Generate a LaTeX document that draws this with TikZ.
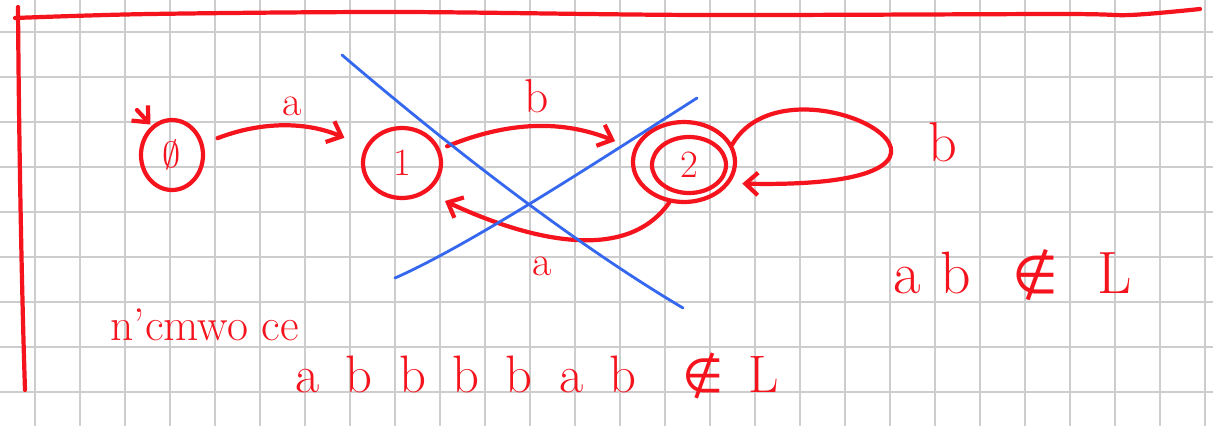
\documentclass[tikz,border=0pt]{standalone}
\usepackage{fontspec}
\usepackage{tikz}
\usetikzlibrary{positioning,shapes.geometric,arrows.meta}
\newfontfamily\symfont{DejaVu Sans}
\definecolor{inkRed}{HTML}{F5141E}
\definecolor{inkBlue}{HTML}{3568EE}
\definecolor{paperGrid}{HTML}{CDCDCD}
\newcommand{\lsp}{\hspace{15pt}}

\begin{document}
\begin{tikzpicture}[x=0.2mm, y=0.2mm,
    ink/.style={draw=inkRed, line width=2.4pt, line cap=round, line join=round},
    state/.style={ellipse, ink, inner sep=0pt, text=inkRed, font=\fontsize{22}{24}\selectfont},
    edge/.style={ink, -{Straight Barb[length=2.5mm,width=4.5mm]}},
    lbl/.style={inner sep=0pt, text=inkRed, font=\fontsize{24}{26}\selectfont},
    cross/.style={draw=inkBlue, line width=1.6pt, line cap=round},
    gridline/.style={draw=paperGrid, line width=0.9pt}]
    \useasboundingbox[fill=white] (0,0) rectangle (1213,-426);
    % squared paper
    \foreach \x in {35,80,...,1205} {
        \draw[gridline] (\x,0) -- (\x,-426);
    }
    \foreach \y in {77,122,...,392} {
        \draw[gridline] (0,-\y) -- (1213,-\y);
    }
    \draw[gridline, line width=1.6pt] (0,-32) -- (1213,-32);
    % frame
    \draw[ink] plot[smooth] coordinates {(15,-18) (150,-14) (400,-12) (700,-15) (1060,-14) (1130,-15) (1200,-9)};
    \draw[ink] (18,-7) .. controls (19,-150) and (22,-300) .. (25,-390);

    % states
    \node[state, minimum width=12.4mm, minimum height=14mm] (s0) at (172,-155) {$\emptyset$};
    \node[state, minimum width=15.6mm, minimum height=14mm] (s1) at (402,-163) {1};
    \node[state, minimum width=20.4mm, minimum height=16mm] (s2) at (684,-162) {};
    \node[state, minimum width=14.8mm, minimum height=11.2mm] (s2in) at (689,-165) {2};

    % transitions
    \coordinate (init) at (137,-110);
    \draw[edge, shorten >=1pt] (init) -- (s0.125);
    \draw[edge, shorten <=3mm, shorten >=4.5mm] (s0) to[bend left=22]
        node[lbl, pos=0.55, above=2mm] {a} (s1);
    \draw[edge, shorten <=1.5mm, shorten >=4mm] (s1.20) to[bend left=22]
        node[lbl, above=2.5mm, font=\fontsize{27}{29}\selectfont] {b} (s2.165);
    \draw[edge, shorten >=4mm] (s2.250) to[out=-125, in=-25, looseness=0.9]
        node[lbl, pos=0.56, below=4mm] {a} (s1.-50);
    \draw[edge, shorten >=2.5mm] (s2.20) .. controls (790,-45) and (1050,-190) .. (s2.-25);
    \node[lbl, font=\fontsize{32}{34}\selectfont] (loopb) at (943,-142) {b};

    % crossing out
    \draw[cross] (342,-55) .. controls (430,-130) and (560,-235) .. (683,-308);
    \draw[cross] (395,-278) .. controls (470,-245) and (600,-160) .. (697,-98);

    % words
    \node[lbl, anchor=base west, font=\fontsize{34}{36}\selectfont] (w1) at (893,-293)
        {a\hspace{11pt}b\hspace{24pt}{\symfont\fontsize{30}{32}\selectfont ∉}\hspace{22pt}L};
    \node[lbl, anchor=base west, font=\fontsize{26}{28}\selectfont] (w2) at (110,-340) {n'cmwo ce};
    \node[lbl, anchor=base west, font=\fontsize{30}{32}\selectfont] (w3) at (295,-392)
        {a\lsp b\lsp b\lsp b\lsp b\lsp a\lsp b\hspace{26pt}{\symfont\fontsize{27}{29}\selectfont ∉}\hspace{14pt}L};
\end{tikzpicture}
\end{document}
